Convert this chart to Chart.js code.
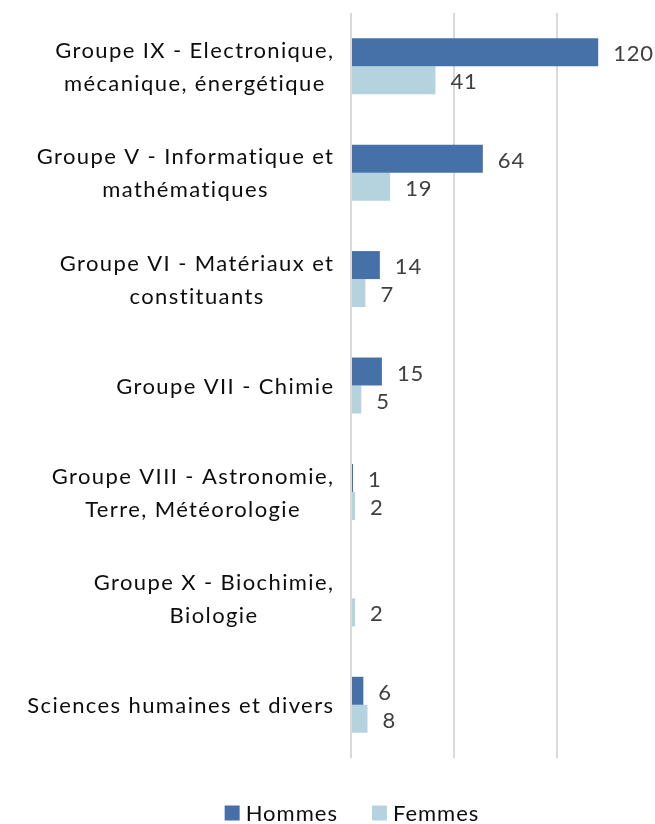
<!DOCTYPE html>
<html>
<head>
<meta charset="utf-8">
<script src="https://cdn.jsdelivr.net/npm/chart.js@4.4.0/dist/chart.umd.min.js"></script>
<style>
  html, body { margin: 0; padding: 0; background: #ffffff; overflow: hidden; width: 655px; height: 824px; }
  #wrap { position: relative; width: 660px; height: 824px; }
</style>
</head>
<body>
<div id="wrap"><canvas id="c"></canvas></div>
<script>
const categories = [
  ["Groupe IX - Electronique,", "mécanique, énergétique"],
  ["Groupe V - Informatique et", "mathématiques"],
  ["Groupe VI - Matériaux et", "constituants"],
  ["Groupe VII - Chimie"],
  ["Groupe VIII - Astronomie,", "Terre, Météorologie"],
  ["Groupe X - Biochimie,", "Biologie"],
  ["Sciences humaines et divers"]
];
const hommes = [120, 64, 14, 15, 1, null, 6];
const femmes = [41, 19, 7, 5, 2, 2, 8];
const seriesNames = ["Hommes", "Femmes"];
const xTicks = [0, 50, 100, 150];

const FONT = "Lato, 'Open Sans', sans-serif";

function setFont(ctx, spacing) {
  ctx.font = "22px " + FONT;
  if ('letterSpacing' in ctx) ctx.letterSpacing = spacing + 'px';
  if ('fontVariantLigatures' in ctx) { try { ctx.fontVariantLigatures = 'none'; } catch (e) {} }
}

const valueLabels = {
  id: 'valueLabels',
  afterDatasetsDraw(chart) {
    const ctx = chart.ctx;
    ctx.save();
    setFont(ctx, 0.8);
    ctx.fillStyle = '#404040';
    ctx.textAlign = 'left';
    ctx.textBaseline = 'middle';
    chart.data.datasets.forEach((ds, di) => {
      const meta = chart.getDatasetMeta(di);
      meta.data.forEach((el, i) => {
        const v = ds.data[i];
        if (v === null || v === undefined) return;
        ctx.fillText(String(v), el.x + 15, el.y + 2);
      });
    });
    ctx.restore();
  }
};

const categoryLabels = {
  id: 'categoryLabels',
  afterDraw(chart) {
    const ctx = chart.ctx;
    const y = chart.scales.y;
    const spacing = 1.4;
    const rightEdge = 333 + spacing;
    const lh = 33;
    ctx.save();
    setFont(ctx, spacing);
    ctx.fillStyle = '#0d0d0d';
    ctx.textAlign = 'left';
    ctx.textBaseline = 'middle';
    chart.data.labels.forEach((lines, i) => {
      const py = y.getPixelForValue(i);
      const widths = lines.map(l => ctx.measureText(l).width);
      const w = Math.max(...widths);
      const cx = rightEdge - w / 2;
      lines.forEach((line, k) => {
        ctx.fillText(line, cx - widths[k] / 2, py + (k - (lines.length - 1) / 2) * lh + 1);
      });
    });
    ctx.restore();
  }
};

const customLegend = {
  id: 'customLegend',
  afterDraw(chart) {
    const ctx = chart.ctx;
    ctx.save();
    setFont(ctx, 1.0);
    ctx.textAlign = 'left';
    ctx.textBaseline = 'middle';
    const box = 15, gap = 6, spacing = 34;
    const items = chart.data.datasets.map(ds => ({
      label: ds.label, color: ds.backgroundColor, w: ctx.measureText(ds.label).width
    }));
    const total = items.reduce((s, it) => s + box + gap + it.w, 0) + spacing * (items.length - 1);
    let x = 352 - total / 2;
    const cy = 813;
    items.forEach(it => {
      ctx.fillStyle = it.color;
      ctx.fillRect(x, cy - box / 2, box, box);
      ctx.fillStyle = '#0d0d0d';
      ctx.fillText(it.label, x + box + gap, cy + 1);
      x += box + gap + it.w + spacing;
    });
    ctx.restore();
  }
};

new Chart(document.getElementById('c'), {
  type: 'bar',
  data: {
    labels: categories,
    datasets: [
      { label: seriesNames[0], data: hommes, backgroundColor: '#4571a8' },
      { label: seriesNames[1], data: femmes, backgroundColor: '#b5d3de' }
    ]
  },
  options: {
    indexAxis: 'y',
    responsive: true,
    maintainAspectRatio: false,
    animation: false,
    datasets: { bar: { categoryPercentage: 0.526, barPercentage: 1.0 } },
    layout: { padding: { top: 13, bottom: 66, left: 0, right: 0 } },
    plugins: {
      legend: { display: false },
      tooltip: { enabled: false }
    },
    scales: {
      x: {
        min: xTicks[0],
        max: xTicks[xTicks.length - 1],
        afterBuildTicks(scale) { scale.ticks = xTicks.map(v => ({ value: v })); },
        ticks: { display: false },
        grid: { color: '#d9d9d9', lineWidth: 2, drawTicks: false },
        border: { display: false }
      },
      y: {
        ticks: { display: false },
        grid: { display: false, drawTicks: false },
        border: { display: false },
        afterFit(scale) { scale.width = 351; }
      }
    }
  },
  plugins: [valueLabels, categoryLabels, customLegend]
});
</script>
</body>
</html>
